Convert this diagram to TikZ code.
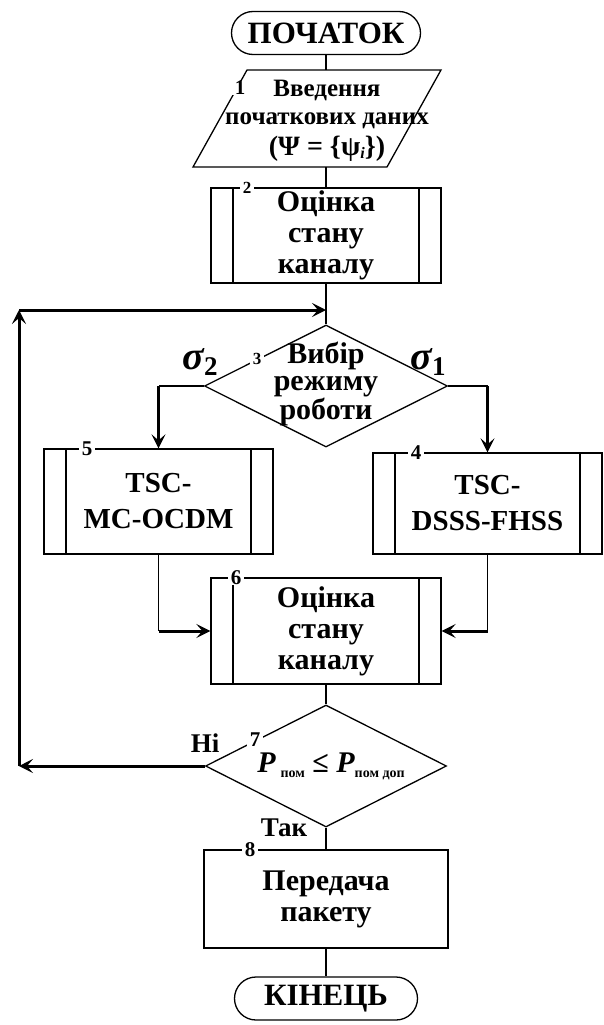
\documentclass[tikz,border=0pt]{standalone}
\usepackage{fontspec}
\setmainfont{Liberation Serif}
\usetikzlibrary{shapes.geometric,arrows.meta}

\begin{document}
\begin{tikzpicture}[x=1pt,y=-1pt,>={Stealth[length=14pt,width=14pt,inset=6pt]},
  every node/.style={font=\bfseries},
  line/.style={line width=1.3pt},
  flow/.style={line width=3pt,->},
  big/.style={font=\bfseries\fontsize{30}{31}\selectfont},
  term/.style={draw,line width=1.3pt,rounded corners=21.5pt,minimum height=43pt,inner sep=0pt,
    font=\bfseries\fontsize{31}{32}\selectfont},
  subbox/.style={draw,line width=1.3pt,minimum width=230pt,inner sep=0pt,align=center,
    path picture={
      \draw[line] ([xshift=22pt]path picture bounding box.north west) -- ([xshift=22pt]path picture bounding box.south west);
      \draw[line] ([xshift=-22pt]path picture bounding box.north east) -- ([xshift=-22pt]path picture bounding box.south east);}},
  procbox/.style={draw,line width=1.3pt,inner sep=0pt,align=center},
  decision/.style={draw,diamond,line width=1.3pt,inner sep=0pt},
  num/.style={fill=white,inner xsep=3pt,inner ysep=0pt,font=\bfseries\fontsize{21}{21}\selectfont},
  smallnum/.style={num,font=\bfseries\fontsize{17}{17}\selectfont}]
\useasboundingbox (0,0) rectangle (604,1025);

% start and input
\node[term,minimum width=189pt] (start) at (326,33) {ПОЧАТОК};
\coordinate (intop) at (326,70);
\coordinate (inbot) at (326,167);
\draw[line] (193,167) -- (247,70) -- (441,70) -- (387,167) -- cycle;
\node[align=center,font=\bfseries\fontsize{25}{28}\selectfont] (indata) at (327,121)
  {Введення\\початкових даних\\[3pt]{\fontsize{28}{30}\selectfont(Ψ = \{ψ\raisebox{-3pt}{\fontsize{16}{16}\selectfont\itshape i}\})}};
\node[num] (n1) at (240,88) {1};

% channel estimate
\node[subbox,big,minimum height=95pt] (b2) at (326,235.5) {Оцінка\\стану\\каналу};
\node[smallnum] (n2) at (247,188) {2};

% mode choice
\node[decision,minimum width=243pt,minimum height=122pt] (d3) at (326,386) {};
\node[align=center,font=\bfseries\fontsize{30}{27.5}\selectfont] (d3t) at (326,384) {Вибір\\режиму\\роботи};
\node[smallnum] (n3) at (257,359) {3};
\node (s2) at (200,362) {{\fontsize{40}{40}\selectfont\itshape σ}\raisebox{-6pt}{\fontsize{27}{27}\selectfont 2}};
\node (s1) at (428,362) {{\fontsize{40}{40}\selectfont\itshape σ}\raisebox{-6pt}{\fontsize{27}{27}\selectfont 1}};

\node[subbox,minimum width=229pt,minimum height=105pt,font=\bfseries\fontsize{29}{36}\selectfont] (b5) at (158.5,501.5) {TSC-\\MC-OCDM};
\node[num] (n5) at (87,449) {5};
\node[subbox,minimum width=229pt,minimum height=101pt,font=\bfseries\fontsize{29}{36}\selectfont] (b4) at (487.5,503.5) {TSC-\\DSSS-FHSS};
\node[num] (n4) at (416,453) {4};

\node[subbox,big,minimum height=106pt] (b6) at (326,631) {Оцінка\\стану\\каналу};
\node[num] (n6) at (236,578) {6};

% check
\node[decision,minimum width=241pt,minimum height=122pt] (d7) at (326,766) {};
\node (d7t) at (331,766) {\fontsize{30}{30}\selectfont{\itshape P}\,\raisebox{-5pt}{\fontsize{14}{14}\selectfont пом}
  ≤ {\itshape P}\raisebox{-5pt}{\fontsize{14}{14}\selectfont пом доп}};
\node[num] (n7) at (255,740) {7};
\node[font=\bfseries\fontsize{27}{27}\selectfont] (no) at (205,743) {Ні};
\node[font=\bfseries\fontsize{27}{27}\selectfont] (yes) at (284,828) {Так};

\node[procbox,big,minimum width=244pt,minimum height=98pt] (b8) at (326,899) {Передача\\пакету};
\node[num] (n8) at (250,850) {8};
\node[term,minimum width=183pt] (end) at (326,998.5) {КІНЕЦЬ};

\coordinate (k5) at (d3.west -| b5.north);
\coordinate (k4) at (d3.east -| b4.north);
\coordinate (m5) at (b5.south |- b6.west);
\coordinate (m4) at (b4.south |- b6.east);
\coordinate (lb) at (19,766);
\coordinate (lt) at (19,310);
\coordinate (jn) at (326,310);

\draw[line] (start) -- (intop);
\draw[line] (inbot) -- (b2);
\draw[line] (b2) -- (d3);
\draw[line] (d3.west) -- (k5);
\draw[flow] (k5) -- (b5);
\draw[line] (d3.east) -- (k4);
\draw[flow] (k4) -- (b4);
\draw[line] (b5) -- (m5);
\draw[flow] (m5) -- (b6);
\draw[line] (b4) -- (m4);
\draw[flow] (m4) -- (b6);
\draw[line] (b6) -- (d7);
\draw[line] (d7) -- (b8);
\draw[line] (b8) -- (end);
\draw[flow] (d7.west) -- (lb);
\draw[flow] (lb) -- (lt);
\draw[flow] (lt) -- (jn);
\end{tikzpicture}
\end{document}
